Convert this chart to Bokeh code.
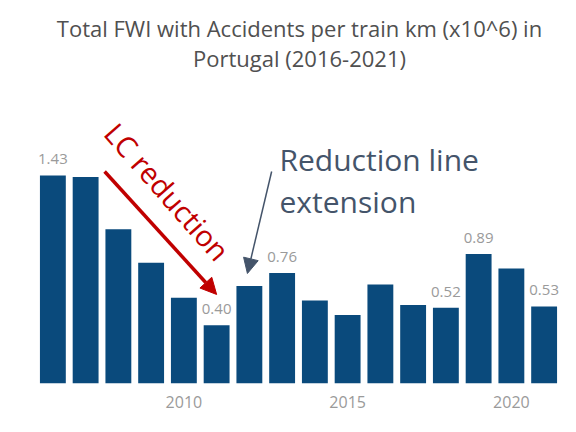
from bokeh.plotting import figure
from bokeh.models import ColumnDataSource, Arrow, NormalHead, FixedTicker, Range1d, Label
from bokeh.core.properties import value
from bokeh.embed import file_html
from bokeh.resources import INLINE

# ---- data ----
years = list(range(2006, 2022))
fwi_values = [1.43, 1.42, 1.06, 0.83, 0.59, 0.40, 0.67, 0.76,
              0.57, 0.47, 0.68, 0.54, 0.52, 0.89, 0.79, 0.53]
labeled_years = [2006, 2011, 2013, 2018, 2019, 2021]
tick_years = [2010, 2015, 2020]
title_line1 = "Total FWI with Accidents per train km (x10^6) in"
title_line2 = "Portugal (2016-2021)"

src = ColumnDataSource(dict(year=years, value=fwi_values))
lab_vals = [fwi_values[years.index(y)] for y in labeled_years]
lab_src = ColumnDataSource(dict(year=labeled_years, value=lab_vals,
                                label=[f"{v:.2f}" for v in lab_vals]))

FONT = "Open Sans"

p = figure(width=560, height=420, output_backend="svg", toolbar_location=None,
           title=None, x_range=Range1d(2005.5, 2021.5), y_range=Range1d(0, 2.598),
           y_axis_location=None, min_border_left=36, min_border_right=0,
           min_border_bottom=37, min_border_top=5)
p.outline_line_color = None
p.grid.visible = False
p.background_fill_color = "white"
p.border_fill_color = "white"

p.vbar(x="year", top="value", width=0.79, source=src,
       fill_color="#0A4A7C", line_color=None)

p.text(x="year", y="value", text="label", source=lab_src,
       text_align="center", text_baseline="bottom", y_offset=-11,
       text_font=value(FONT), text_font_size="15px", text_color="#9a9a9a")

ax = p.xaxis[0]
ax.ticker = FixedTicker(ticks=tick_years)
ax.axis_line_color = None
ax.major_tick_line_color = None
ax.minor_tick_line_color = None
ax.major_tick_out = 0
ax.major_tick_in = 0
ax.major_label_standoff = 12
ax.major_label_text_font = FONT
ax.major_label_text_font_size = "16px"
ax.major_label_text_color = "#9a9a9a"

# ---- two-line title (centred above the bars) ----
for txt, ty in ((title_line1, 2.443), (title_line2, 2.237)):
    p.add_layout(Label(x=2013.53, y=ty, text=txt, text_align="center",
                       text_baseline="middle", text_font=FONT,
                       text_font_size="22px", text_color="#505050"))

# ---- annotations ----
red = "#C00000"
p.add_layout(Arrow(end=NormalHead(size=16, fill_color=red, line_color=red),
                   x_start=2007.58, y_start=1.457, x_end=2011.0, y_end=0.612,
                   line_color=red, line_width=3.5))
p.add_layout(Label(x=2009.5, y=1.32, text="LC reduction", angle=-0.85,
                   text_align="center", text_baseline="middle",
                   text_font=FONT, text_font_size="29px", text_color=red))

slate = "#44546A"
p.add_layout(Arrow(end=NormalHead(size=15, fill_color=slate, line_color=slate),
                   x_start=2012.68, y_start=1.457, x_end=2011.94, y_end=0.756,
                   line_color=slate, line_width=1.5))
p.add_layout(Label(x=2012.92, y=1.54, text="Reduction line",
                   text_align="left", text_baseline="alphabetic",
                   text_font=FONT, text_font_size="30px", text_color=slate))
p.add_layout(Label(x=2012.92, y=1.25, text="extension",
                   text_align="left", text_baseline="alphabetic",
                   text_font=FONT, text_font_size="30px", text_color=slate))

open("out.html", "w").write(file_html(p, INLINE))
